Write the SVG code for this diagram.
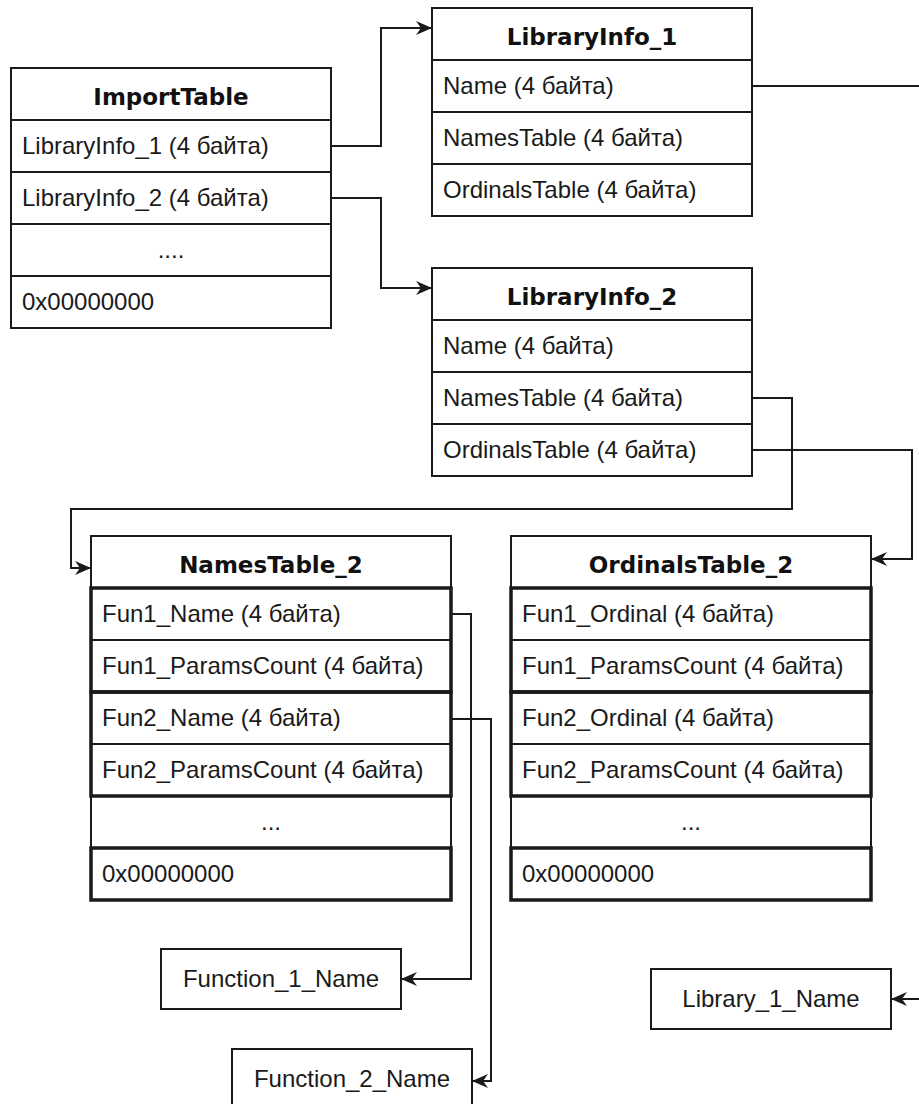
<svg xmlns="http://www.w3.org/2000/svg" width="919" height="1104" viewBox="0 0 919 1104">
<style>
.box{fill:#fff;stroke:#1a1a1a;stroke-width:2}
.sep{stroke:#1a1a1a;stroke-width:2;fill:none}
.thick{fill:none;stroke:#1a1a1a;stroke-width:3.5}
.hd{font-family:"DejaVu Sans",Verdana,sans-serif;font-weight:bold;font-size:23px;fill:#111;text-anchor:middle}
.tx{font-family:"Liberation Sans",Arial,sans-serif;font-size:24px;fill:#1a1a1a}
.ct{font-family:"Liberation Sans",Arial,sans-serif;font-size:24px;fill:#1a1a1a;text-anchor:middle}
.edge{fill:none;stroke:#1a1a1a;stroke-width:2;marker-end:url(#arr)}
</style>
<defs>
<marker id="arr" markerUnits="userSpaceOnUse" markerWidth="16" markerHeight="14" refX="15" refY="7" orient="auto">
<path d="M0,0 L16,7 L0,14 L5,7 Z" fill="#1a1a1a"/>
</marker>
</defs>
<rect width="919" height="1104" fill="#fff"/>

<g id="connectors">
<path class="edge" d="M331,146 H381 V28 H431"/>
<path class="edge" d="M331,198 H381 V288 H431"/>
<path class="edge" d="M752,86 H930 V999 H892"/>
<path class="edge" d="M752,398 H792 V509 H71 V568 H90"/>
<path class="edge" d="M752,450 H912 V559 H872"/>
<path class="edge" d="M451,614 H471 V979 H402"/>
<path class="edge" d="M451,719 H491 V1081 H473"/>
</g>

<g id="ImportTable">
<rect class="box" x="11" y="68" width="320" height="260"/>
<path class="sep" d="M11,120 H331 M11,172 H331 M11,224 H331 M11,276 H331"/>
<text class="hd" x="171" y="105">ImportTable</text>
<text class="tx" x="22" y="154">LibraryInfo_1 (4 байта)</text>
<text class="tx" x="22" y="206">LibraryInfo_2 (4 байта)</text>
<text class="ct" x="171" y="258">....</text>
<text class="tx" x="22" y="310">0x00000000</text>
</g>

<g id="LibraryInfo_1">
<rect class="box" x="432" y="8" width="320" height="208"/>
<path class="sep" d="M432,60 H752 M432,112 H752 M432,164 H752"/>
<text class="hd" x="592" y="45">LibraryInfo_1</text>
<text class="tx" x="443" y="94">Name (4 байта)</text>
<text class="tx" x="443" y="146">NamesTable (4 байта)</text>
<text class="tx" x="443" y="198">OrdinalsTable (4 байта)</text>
</g>

<g id="LibraryInfo_2">
<rect class="box" x="432" y="268" width="320" height="208"/>
<path class="sep" d="M432,320 H752 M432,372 H752 M432,424 H752"/>
<text class="hd" x="592" y="305">LibraryInfo_2</text>
<text class="tx" x="443" y="354">Name (4 байта)</text>
<text class="tx" x="443" y="406">NamesTable (4 байта)</text>
<text class="tx" x="443" y="458">OrdinalsTable (4 байта)</text>
</g>

<g id="NamesTable_2">
<rect class="box" x="91" y="536" width="360" height="364"/>
<path class="sep" d="M91,640 H451 M91,744 H451"/>
<rect class="thick" x="91" y="588" width="360" height="104"/>
<rect class="thick" x="91" y="692" width="360" height="104"/>
<rect class="thick" x="91" y="848" width="360" height="52"/>
<text class="hd" x="271" y="573">NamesTable_2</text>
<text class="tx" x="102" y="622">Fun1_Name (4 байта)</text>
<text class="tx" x="102" y="674">Fun1_ParamsCount (4 байта)</text>
<text class="tx" x="102" y="726">Fun2_Name (4 байта)</text>
<text class="tx" x="102" y="778">Fun2_ParamsCount (4 байта)</text>
<text class="ct" x="271" y="830">...</text>
<text class="tx" x="102" y="882">0x00000000</text>
</g>

<g id="OrdinalsTable_2">
<rect class="box" x="511" y="536" width="360" height="364"/>
<path class="sep" d="M511,640 H871 M511,744 H871"/>
<rect class="thick" x="511" y="588" width="360" height="104"/>
<rect class="thick" x="511" y="692" width="360" height="104"/>
<rect class="thick" x="511" y="848" width="360" height="52"/>
<text class="hd" x="691" y="573">OrdinalsTable_2</text>
<text class="tx" x="522" y="622">Fun1_Ordinal (4 байта)</text>
<text class="tx" x="522" y="674">Fun1_ParamsCount (4 байта)</text>
<text class="tx" x="522" y="726">Fun2_Ordinal (4 байта)</text>
<text class="tx" x="522" y="778">Fun2_ParamsCount (4 байта)</text>
<text class="ct" x="691" y="830">...</text>
<text class="tx" x="522" y="882">0x00000000</text>
</g>

<g id="Function_1_Name">
<rect class="box" x="161" y="949" width="240" height="60"/>
<text class="ct" x="281" y="987">Function_1_Name</text>
</g>

<g id="Function_2_Name">
<rect class="box" x="232" y="1049" width="240" height="60"/>
<text class="ct" x="352" y="1087">Function_2_Name</text>
</g>

<g id="Library_1_Name">
<rect class="box" x="651" y="969" width="240" height="60"/>
<text class="ct" x="771" y="1007">Library_1_Name</text>
</g>
</svg>
